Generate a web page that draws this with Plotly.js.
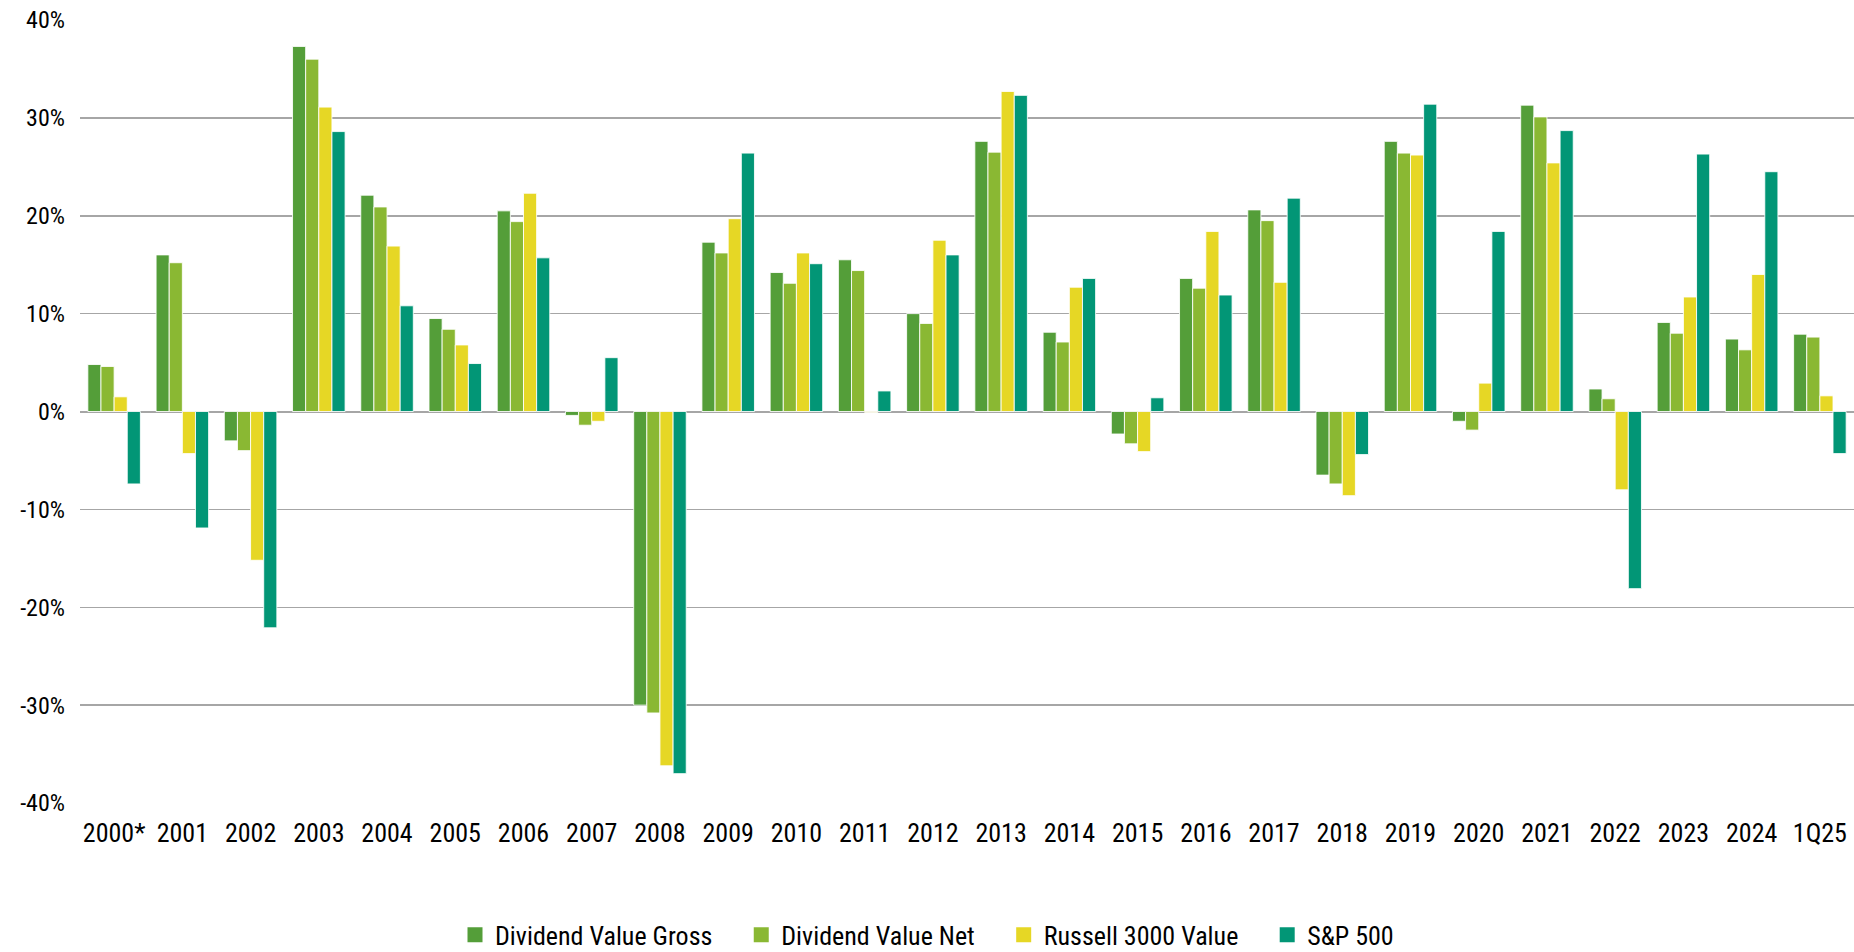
<!DOCTYPE html>
<html>
<head>
<meta charset="utf-8">
<script src="https://cdn.plot.ly/plotly-3.0.1.min.js"></script>
<style>
html,body{margin:0;padding:0;background:#fff;}
#chart{width:1854px;height:952px;}
</style>
</head>
<body>
<div id="chart"></div>
<script>
const categories = ["2000*","2001","2002","2003","2004","2005","2006","2007","2008","2009","2010","2011","2012","2013","2014","2015","2016","2017","2018","2019","2020","2021","2022","2023","2024","1Q25"];
const dividendValueGross = [4.8,16.0,-3.0,37.3,22.1,9.5,20.5,-0.4,-30.0,17.3,14.2,15.5,10.0,27.6,8.1,-2.3,13.6,20.6,-6.5,27.6,-1.0,31.3,2.3,9.1,7.4,7.9];
const dividendValueNet = [4.6,15.2,-4.0,36.0,20.9,8.4,19.4,-1.4,-30.8,16.2,13.1,14.4,9.0,26.5,7.1,-3.3,12.6,19.5,-7.4,26.4,-1.9,30.1,1.3,8.0,6.3,7.6];
const russell3000Value = [1.5,-4.3,-15.2,31.1,16.9,6.8,22.3,-1.0,-36.2,19.7,16.2,-0.1,17.5,32.7,12.7,-4.1,18.4,13.2,-8.6,26.2,2.9,25.4,-8.0,11.7,14.0,1.6];
const sp500 = [-7.4,-11.9,-22.1,28.6,10.8,4.9,15.7,5.5,-37.0,26.4,15.1,2.1,16.0,32.3,13.6,1.4,11.9,21.8,-4.4,31.4,18.4,28.7,-18.1,26.3,24.5,-4.3];
const seriesNames = ["Dividend Value Gross","Dividend Value Net","Russell 3000 Value","S&P 500"];
const seriesColors = ["#549E39","#8AB833","#E6D725","#029676"];
const yTickVals = [-40,-30,-20,-10,0,10,20,30,40];
const yTickText = ["-40%","-30%","-20%","-10%","0%","10%","20%","30%","40%"];

const FONT = "'Roboto Condensed', 'Liberation Sans Narrow', 'Arial Narrow', 'DejaVu Sans Condensed', Roboto, sans-serif";
const PAD = "\u00a0\u00a0\u00a0\u00a0";
const allSeries = [dividendValueGross, dividendValueNet, russell3000Value, sp500];
const barTraces = allSeries.map((vals, i) => ({
  type: "bar",
  name: seriesNames[i],
  x: categories,
  y: vals,
  showlegend: false,
  marker: {color: seriesColors[i], line: {color: "rgba(255,255,255,0.85)", width: 1}},
  hoverinfo: "x+y+name"
}));
const legendTraces = seriesNames.map((nm, i) => ({
  type: "scatter",
  mode: "markers",
  name: i < seriesNames.length - 1 ? nm + PAD : nm,
  x: [null],
  y: [null],
  showlegend: true,
  marker: {symbol: "square", size: 15, color: seriesColors[i]}
}));

const layout = {
  width: 1854,
  height: 952,
  paper_bgcolor: "#ffffff",
  plot_bgcolor: "#ffffff",
  margin: {l: 80, r: 0, t: 20, b: 149},
  barmode: "group",
  bargap: 0.23,
  bargroupgap: 0,
  font: {family: FONT, size: 24, color: "#000000"},
  xaxis: {
    type: "category",
    categoryorder: "array",
    categoryarray: categories,
    showgrid: false,
    showline: false,
    zeroline: false,
    ticks: "",
    ticklabelstandoff: 12,
    tickfont: {family: FONT, size: 26, color: "#000000"}
  },
  yaxis: {
    range: [-40, 40],
    tickvals: yTickVals,
    ticktext: yTickText,
    showgrid: true,
    gridcolor: "#A6A6A6",
    gridwidth: 1.5,
    zeroline: true,
    zerolinecolor: "#A6A6A6",
    zerolinewidth: 2,
    showline: false,
    ticks: "",
    ticklabelstandoff: 14,
    tickfont: {family: FONT, size: 24, color: "#000000"}
  },
  showlegend: true,
  legend: {
    orientation: "h",
    xref: "container",
    yref: "container",
    x: 0.5,
    xanchor: "center",
    y: 0.018,
    yanchor: "middle",
    font: {family: FONT, size: 26, color: "#000000"},
    itemwidth: 30,
    itemsizing: "trace",
    traceorder: "normal"
  }
};

Plotly.newPlot("chart", barTraces.concat(legendTraces), layout, {displayModeBar: false, staticPlot: true});
</script>
</body>
</html>
